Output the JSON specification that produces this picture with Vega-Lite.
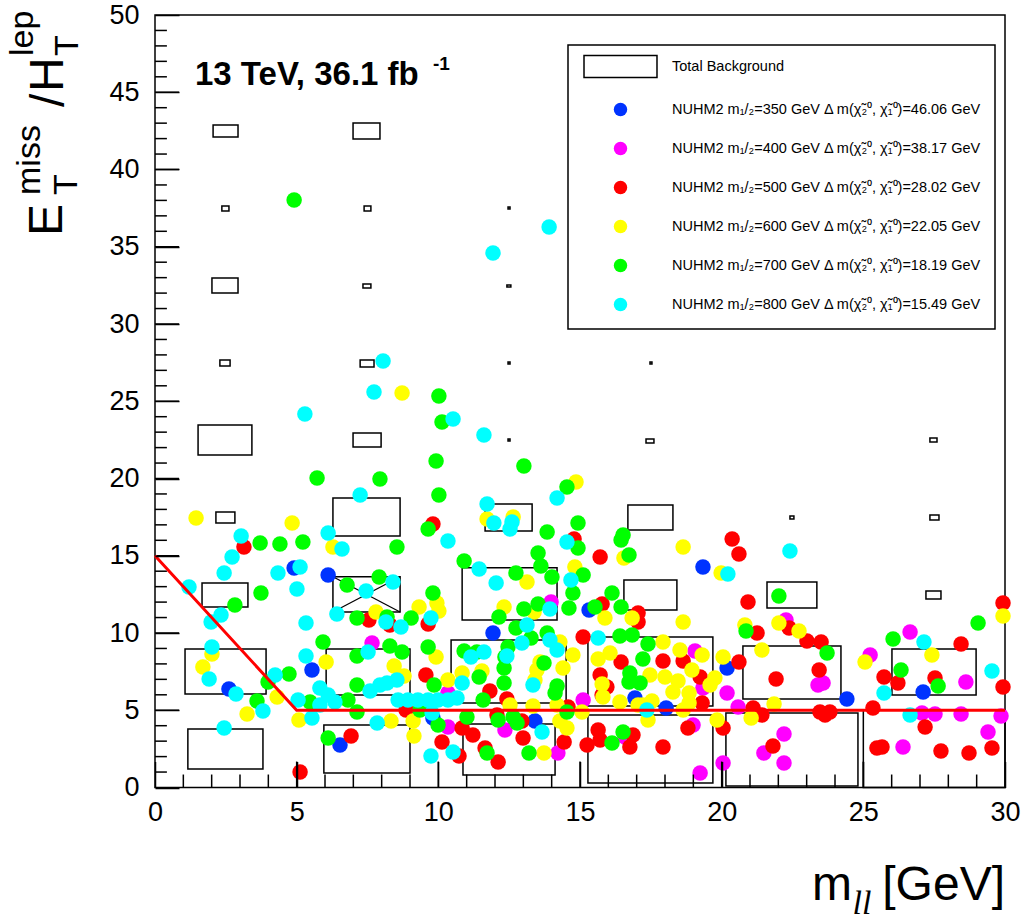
{
  "$schema": "https://vega.github.io/schema/vega-lite/v6.json",
  "width": 850,
  "height": 772.5,
  "autosize": {"type": "none"},
  "padding": {"left": 155, "top": 15, "right": 25, "bottom": 136.5},
  "background": "white",
  "config": {
    "view": {"stroke": "black", "strokeWidth": 1.5},
    "font": "Liberation Sans"
  },
  "resolve": {"scale": {"x": "shared", "y": "shared"}, "axis": {"x": "independent", "y": "independent"}},
  "datasets": {
    "boxes": [
      {"x1": 2.05, "x2": 2.93, "y1": 42.10, "y2": 42.88},
      {"x1": 2.36, "x2": 2.61, "y1": 37.31, "y2": 37.64},
      {"x1": 2.01, "x2": 2.93, "y1": 32.01, "y2": 32.98},
      {"x1": 2.29, "x2": 2.65, "y1": 27.28, "y2": 27.67},
      {"x1": 1.52, "x2": 3.42, "y1": 21.52, "y2": 23.46},
      {"x1": 2.15, "x2": 2.82, "y1": 17.12, "y2": 17.83},
      {"x1": 1.66, "x2": 3.28, "y1": 11.68, "y2": 13.24},
      {"x1": 1.06, "x2": 3.92, "y1": 6.05, "y2": 8.96},
      {"x1": 1.16, "x2": 3.81, "y1": 1.20, "y2": 3.79},
      {"x1": 6.99, "x2": 7.94, "y1": 41.97, "y2": 43.01},
      {"x1": 7.38, "x2": 7.62, "y1": 37.31, "y2": 37.64},
      {"x1": 7.34, "x2": 7.62, "y1": 32.33, "y2": 32.59},
      {"x1": 7.24, "x2": 7.73, "y1": 27.22, "y2": 27.67},
      {"x1": 6.99, "x2": 7.98, "y1": 22.04, "y2": 22.94},
      {"x1": 6.28, "x2": 8.65, "y1": 16.28, "y2": 18.74},
      {"x1": 6.28, "x2": 8.65, "y1": 11.36, "y2": 13.64},
      {"x1": 6.04, "x2": 9.00, "y1": 5.99, "y2": 8.96},
      {"x1": 5.96, "x2": 9.00, "y1": 0.94, "y2": 4.05},
      {"x1": 12.46, "x2": 12.53, "y1": 37.44, "y2": 37.57},
      {"x1": 12.42, "x2": 12.56, "y1": 32.39, "y2": 32.52},
      {"x1": 12.46, "x2": 12.53, "y1": 27.41, "y2": 27.54},
      {"x1": 12.46, "x2": 12.53, "y1": 22.43, "y2": 22.56},
      {"x1": 11.65, "x2": 13.31, "y1": 16.60, "y2": 18.35},
      {"x1": 10.84, "x2": 14.19, "y1": 10.84, "y2": 14.22},
      {"x1": 10.45, "x2": 14.51, "y1": 5.47, "y2": 9.55},
      {"x1": 10.87, "x2": 14.12, "y1": 0.81, "y2": 4.11},
      {"x1": 17.47, "x2": 17.54, "y1": 27.41, "y2": 27.54},
      {"x1": 17.33, "x2": 17.61, "y1": 22.30, "y2": 22.56},
      {"x1": 16.69, "x2": 18.28, "y1": 16.67, "y2": 18.28},
      {"x1": 16.55, "x2": 18.42, "y1": 11.49, "y2": 13.43},
      {"x1": 15.28, "x2": 19.69, "y1": 5.28, "y2": 9.74},
      {"x1": 15.28, "x2": 19.69, "y1": 0.29, "y2": 4.69},
      {"x1": 22.41, "x2": 22.55, "y1": 17.38, "y2": 17.57},
      {"x1": 21.60, "x2": 23.36, "y1": 11.62, "y2": 13.30},
      {"x1": 20.75, "x2": 24.21, "y1": 5.73, "y2": 9.16},
      {"x1": 20.15, "x2": 24.81, "y1": 0.10, "y2": 4.82},
      {"x1": 27.35, "x2": 27.60, "y1": 22.36, "y2": 22.62},
      {"x1": 27.35, "x2": 27.67, "y1": 17.31, "y2": 17.64},
      {"x1": 27.21, "x2": 27.74, "y1": 12.20, "y2": 12.72},
      {"x1": 26.01, "x2": 28.98, "y1": 5.99, "y2": 8.96},
      {"x1": 25.0, "x2": 30.0, "y1": 0.0, "y2": 5.0}
    ],
    "pts": [
      {"x":4.91,"y":14.21,"m":"350"},{"x":6.11,"y":13.75,"m":"350"},{"x":5.54,"y":7.61,"m":"350"},{"x":2.61,"y":6.38,"m":"350"},{"x":6.53,"y":2.75,"m":"350"},{"x":9.81,"y":4.50,"m":"350"},{"x":11.93,"y":10.0,"m":"350"},{"x":15.32,"y":11.49,"m":"350"},{"x":13.41,"y":4.30,"m":"350"},{"x":19.34,"y":14.27,"m":"350"},{"x":16.94,"y":5.79,"m":"350"},{"x":18.04,"y":5.15,"m":"350"},{"x":20.19,"y":7.73,"m":"350"},{"x":24.42,"y":5.73,"m":"350"},{"x":27.11,"y":6.18,"m":"350"},
      {"x":7.66,"y":9.35,"m":"400"},{"x":10.34,"y":6.12,"m":"400"},{"x":10.34,"y":3.92,"m":"400"},{"x":13.98,"y":12.01,"m":"400"},{"x":15.11,"y":5.66,"m":"400"},{"x":12.35,"y":3.72,"m":"400"},{"x":14.22,"y":2.23,"m":"400"},{"x":19.06,"y":8.83,"m":"400"},{"x":19.34,"y":6.44,"m":"400"},{"x":20.19,"y":6.12,"m":"400"},{"x":20.58,"y":5.21,"m":"400"},{"x":18.99,"y":4.05,"m":"400"},{"x":19.24,"y":0.94,"m":"400"},{"x":20.05,"y":1.59,"m":"400"},{"x":22.27,"y":10.84,"m":"400"},{"x":23.40,"y":6.63,"m":"400"},{"x":23.58,"y":6.76,"m":"400"},{"x":22.20,"y":3.46,"m":"400"},{"x":21.49,"y":2.23,"m":"400"},{"x":22.20,"y":1.59,"m":"400"},{"x":25.24,"y":8.58,"m":"400"},{"x":26.65,"y":10.06,"m":"400"},{"x":27.07,"y":4.82,"m":"400"},{"x":27.53,"y":4.76,"m":"400"},{"x":28.45,"y":4.76,"m":"400"},{"x":29.86,"y":4.63,"m":"400"},{"x":29.40,"y":3.59,"m":"400"},{"x":26.40,"y":2.62,"m":"400"},{"x":28.62,"y":6.83,"m":"400"},{"x":16.59,"y":3.27,"m":"400"},
      {"x":3.14,"y":15.57,"m":"500"},{"x":9.81,"y":17.05,"m":"500"},{"x":7.55,"y":10.84,"m":"500"},{"x":8.29,"y":10.52,"m":"500"},{"x":9.64,"y":10.58,"m":"500"},{"x":9.56,"y":7.28,"m":"500"},{"x":8.86,"y":5.02,"m":"500"},{"x":6.92,"y":3.33,"m":"500"},{"x":10.13,"y":2.94,"m":"500"},{"x":5.12,"y":1.0,"m":"500"},
      {"x":14.79,"y":16.08,"m":"500"},{"x":15.71,"y":14.92,"m":"500"},{"x":20.37,"y":16.08,"m":"500"},{"x":15.78,"y":11.88,"m":"500"},{"x":17.05,"y":11.29,"m":"500"},{"x":17.05,"y":10.71,"m":"500"},{"x":15.11,"y":9.74,"m":"500"},{"x":16.45,"y":8.12,"m":"500"},{"x":17.93,"y":8.19,"m":"500"},{"x":18.64,"y":8.19,"m":"500"},
      {"x":15.71,"y":7.28,"m":"500"},{"x":15.95,"y":6.50,"m":"500"},{"x":19.24,"y":7.15,"m":"500"},{"x":15.78,"y":5.99,"m":"500"},{"x":19.31,"y":5.47,"m":"500"},{"x":11.82,"y":6.25,"m":"500"},{"x":12.42,"y":5.73,"m":"500"},{"x":12.07,"y":4.69,"m":"500"},{"x":12.95,"y":4.30,"m":"500"},{"x":12.99,"y":3.20,"m":"500"},
      {"x":14.58,"y":5.21,"m":"500"},{"x":14.44,"y":2.94,"m":"500"},{"x":12.11,"y":1.65,"m":"500"},{"x":11.65,"y":2.56,"m":"500"},{"x":10.73,"y":2.04,"m":"500"},{"x":10.84,"y":3.85,"m":"500"},{"x":11.22,"y":3.40,"m":"500"},{"x":15.25,"y":2.75,"m":"500"},{"x":15.64,"y":3.72,"m":"500"},{"x":15.71,"y":3.07,"m":"500"},
      {"x":16.76,"y":2.62,"m":"500"},{"x":16.87,"y":3.40,"m":"500"},{"x":17.93,"y":2.62,"m":"500"},{"x":18.81,"y":3.85,"m":"500"},{"x":20.05,"y":3.85,"m":"500"},{"x":20.61,"y":15.11,"m":"500"},{"x":20.93,"y":12.01,"m":"500"},{"x":21.25,"y":10.0,"m":"500"},{"x":22.38,"y":10.32,"m":"500"},{"x":23.01,"y":9.48,"m":"500"},
      {"x":23.51,"y":9.42,"m":"500"},{"x":20.61,"y":8.12,"m":"500"},{"x":21.92,"y":7.02,"m":"500"},{"x":23.44,"y":7.61,"m":"500"},{"x":21.11,"y":5.15,"m":"500"},{"x":21.42,"y":4.69,"m":"500"},{"x":23.47,"y":4.89,"m":"500"},{"x":23.82,"y":4.89,"m":"500"},{"x":23.65,"y":4.69,"m":"500"},{"x":21.81,"y":2.69,"m":"500"},
      {"x":29.93,"y":11.94,"m":"500"},{"x":28.45,"y":9.29,"m":"500"},{"x":25.73,"y":7.15,"m":"500"},{"x":26.22,"y":6.76,"m":"500"},{"x":27.53,"y":7.09,"m":"500"},{"x":29.93,"y":6.50,"m":"500"},{"x":25.34,"y":5.15,"m":"500"},{"x":27.18,"y":3.92,"m":"500"},{"x":25.48,"y":2.56,"m":"500"},{"x":25.66,"y":2.62,"m":"500"},
      {"x":27.74,"y":2.36,"m":"500"},{"x":28.73,"y":2.23,"m":"500"},{"x":29.54,"y":2.56,"m":"500"},
      {"x":8.72,"y":25.53,"m":"600"},{"x":1.45,"y":17.44,"m":"600"},{"x":4.84,"y":17.12,"m":"600"},{"x":6.28,"y":15.57,"m":"600"},{"x":9.32,"y":11.68,"m":"600"},{"x":9.95,"y":11.94,"m":"600"},{"x":10.02,"y":11.42,"m":"600"},{"x":7.80,"y":11.36,"m":"600"},{"x":2.01,"y":8.64,"m":"600"},{"x":9.92,"y":8.45,"m":"600"},
      {"x":6.04,"y":8.12,"m":"600"},{"x":8.44,"y":7.86,"m":"600"},{"x":1.69,"y":7.80,"m":"600"},{"x":8.79,"y":7.22,"m":"600"},{"x":4.31,"y":5.86,"m":"600"},{"x":3.25,"y":4.76,"m":"600"},{"x":5.08,"y":4.37,"m":"600"},{"x":8.33,"y":4.30,"m":"600"},{"x":9.11,"y":4.30,"m":"600"},{"x":9.14,"y":3.33,"m":"600"},
      {"x":10.34,"y":6.96,"m":"600"},{"x":14.86,"y":19.77,"m":"600"},{"x":11.72,"y":17.38,"m":"600"},{"x":12.64,"y":17.51,"m":"600"},{"x":16.55,"y":14.85,"m":"600"},{"x":18.64,"y":15.57,"m":"600"},{"x":19.98,"y":13.88,"m":"600"},{"x":14.82,"y":14.27,"m":"600"},{"x":13.13,"y":13.30,"m":"600"},{"x":12.32,"y":11.68,"m":"600"},
      {"x":13.38,"y":11.36,"m":"600"},{"x":15.88,"y":10.97,"m":"600"},{"x":16.84,"y":10.97,"m":"600"},{"x":18.64,"y":10.71,"m":"600"},{"x":14.29,"y":9.42,"m":"600"},{"x":14.75,"y":8.58,"m":"600"},{"x":17.93,"y":9.42,"m":"600"},{"x":18.53,"y":8.90,"m":"600"},{"x":19.31,"y":8.58,"m":"600"},{"x":20.05,"y":8.45,"m":"600"},
      {"x":15.64,"y":8.32,"m":"600"},{"x":16.06,"y":8.71,"m":"600"},{"x":13.59,"y":8.12,"m":"600"},{"x":14.40,"y":7.73,"m":"600"},{"x":18.95,"y":7.61,"m":"600"},{"x":10.84,"y":7.41,"m":"600"},{"x":11.54,"y":7.54,"m":"600"},{"x":13.48,"y":7.61,"m":"600"},{"x":13.41,"y":6.96,"m":"600"},{"x":15.78,"y":6.70,"m":"600"},
      {"x":17.47,"y":7.28,"m":"600"},{"x":18.0,"y":7.15,"m":"600"},{"x":18.46,"y":6.89,"m":"600"},{"x":18.28,"y":6.18,"m":"600"},{"x":19.76,"y":7.09,"m":"600"},{"x":19.59,"y":6.63,"m":"600"},{"x":15.81,"y":5.86,"m":"600"},{"x":16.41,"y":5.53,"m":"600"},{"x":17.54,"y":5.60,"m":"600"},{"x":17.22,"y":5.34,"m":"600"},
      {"x":18.85,"y":6.12,"m":"600"},{"x":18.85,"y":5.47,"m":"600"},{"x":18.64,"y":5.02,"m":"600"},{"x":17.40,"y":4.37,"m":"600"},{"x":17.05,"y":5.34,"m":"600"},{"x":15.07,"y":4.89,"m":"600"},{"x":12.53,"y":5.34,"m":"600"},{"x":13.34,"y":5.28,"m":"600"},{"x":14.19,"y":5.34,"m":"600"},{"x":14.29,"y":4.30,"m":"600"},
      {"x":14.54,"y":3.85,"m":"600"},{"x":13.73,"y":2.23,"m":"600"},{"x":19.84,"y":4.37,"m":"600"},{"x":20.82,"y":10.52,"m":"600"},{"x":22.02,"y":10.65,"m":"600"},{"x":22.73,"y":10.13,"m":"600"},{"x":21.42,"y":8.90,"m":"600"},{"x":21.85,"y":5.40,"m":"600"},{"x":21.04,"y":4.50,"m":"600"},{"x":25.06,"y":8.12,"m":"600"},
      {"x":27.42,"y":8.58,"m":"600"},{"x":29.93,"y":11.10,"m":"600"},
      {"x":4.91,"y":38.03,"m":"700"},{"x":10.02,"y":25.34,"m":"700"},{"x":10.13,"y":23.66,"m":"700"},{"x":9.92,"y":21.13,"m":"700"},{"x":5.72,"y":20.03,"m":"700"},{"x":7.94,"y":19.97,"m":"700"},{"x":10.02,"y":18.93,"m":"700"},{"x":9.64,"y":16.73,"m":"700"},{"x":3.71,"y":15.83,"m":"700"},{"x":4.41,"y":15.76,"m":"700"},
      {"x":5.22,"y":15.89,"m":"700"},{"x":8.54,"y":15.57,"m":"700"},{"x":6.78,"y":13.11,"m":"700"},{"x":7.91,"y":13.62,"m":"700"},{"x":3.74,"y":12.59,"m":"700"},{"x":9.81,"y":12.59,"m":"700"},{"x":2.82,"y":11.81,"m":"700"},{"x":7.13,"y":10.97,"m":"700"},{"x":9.04,"y":10.97,"m":"700"},{"x":8.19,"y":11.04,"m":"700"},
      {"x":5.93,"y":9.42,"m":"700"},{"x":8.29,"y":9.16,"m":"700"},{"x":8.72,"y":8.77,"m":"700"},{"x":9.64,"y":9.09,"m":"700"},{"x":7.13,"y":8.51,"m":"700"},{"x":4.73,"y":7.35,"m":"700"},{"x":7.13,"y":6.63,"m":"700"},{"x":9.85,"y":6.63,"m":"700"},{"x":3.99,"y":6.83,"m":"700"},{"x":3.60,"y":5.60,"m":"700"},
      {"x":5.47,"y":5.53,"m":"700"},{"x":6.81,"y":5.66,"m":"700"},{"x":7.13,"y":4.89,"m":"700"},{"x":9.35,"y":5.02,"m":"700"},{"x":9.99,"y":4.05,"m":"700"},{"x":6.11,"y":3.20,"m":"700"},{"x":13.02,"y":20.81,"m":"700"},{"x":14.54,"y":19.45,"m":"700"},{"x":13.84,"y":16.54,"m":"700"},{"x":14.93,"y":17.12,"m":"700"},
      {"x":14.93,"y":15.50,"m":"700"},{"x":13.52,"y":15.18,"m":"700"},{"x":16.52,"y":16.34,"m":"700"},{"x":16.45,"y":16.02,"m":"700"},{"x":16.73,"y":15.05,"m":"700"},{"x":10.91,"y":14.66,"m":"700"},{"x":13.62,"y":14.34,"m":"700"},{"x":12.74,"y":13.88,"m":"700"},{"x":14.01,"y":13.62,"m":"700"},{"x":15.11,"y":13.75,"m":"700"},
      {"x":14.75,"y":12.59,"m":"700"},{"x":16.13,"y":12.59,"m":"700"},{"x":13.52,"y":11.88,"m":"700"},{"x":13.02,"y":11.55,"m":"700"},{"x":14.61,"y":11.62,"m":"700"},{"x":15.53,"y":11.68,"m":"700"},{"x":16.45,"y":11.68,"m":"700"},{"x":12.14,"y":11.04,"m":"700"},{"x":12.74,"y":10.32,"m":"700"},{"x":13.84,"y":10.0,"m":"700"},
      {"x":13.27,"y":9.68,"m":"700"},{"x":16.41,"y":9.81,"m":"700"},{"x":16.84,"y":9.87,"m":"700"},{"x":17.40,"y":9.29,"m":"700"},{"x":10.91,"y":8.83,"m":"700"},{"x":11.36,"y":8.77,"m":"700"},{"x":12.35,"y":8.45,"m":"700"},{"x":12.46,"y":9.09,"m":"700"},{"x":13.73,"y":8.06,"m":"700"},{"x":17.22,"y":8.32,"m":"700"},
      {"x":11.44,"y":7.15,"m":"700"},{"x":12.32,"y":7.73,"m":"700"},{"x":12.32,"y":6.76,"m":"700"},{"x":16.76,"y":7.41,"m":"700"},{"x":16.73,"y":6.83,"m":"700"},{"x":17.12,"y":6.76,"m":"700"},{"x":14.19,"y":6.57,"m":"700"},{"x":14.12,"y":6.12,"m":"700"},{"x":11.58,"y":5.66,"m":"700"},{"x":12.11,"y":4.37,"m":"700"},
      {"x":12.78,"y":4.17,"m":"700"},{"x":12.64,"y":4.56,"m":"700"},{"x":14.54,"y":4.89,"m":"700"},{"x":13.20,"y":2.23,"m":"700"},{"x":11.72,"y":2.23,"m":"700"},{"x":11.01,"y":4.56,"m":"700"},{"x":16.13,"y":2.88,"m":"700"},{"x":16.52,"y":3.59,"m":"700"},{"x":22.02,"y":12.39,"m":"700"},{"x":20.86,"y":10.13,"m":"700"},
      {"x":23.72,"y":8.71,"m":"700"},{"x":29.05,"y":10.65,"m":"700"},{"x":26.05,"y":9.61,"m":"700"},{"x":26.33,"y":7.61,"m":"700"},{"x":27.64,"y":6.57,"m":"700"},
      {"x":13.91,"y":36.28,"m":"800"},{"x":11.93,"y":34.60,"m":"800"},{"x":8.05,"y":27.61,"m":"800"},{"x":7.73,"y":25.60,"m":"800"},{"x":5.29,"y":24.17,"m":"800"},{"x":10.52,"y":23.85,"m":"800"},{"x":11.61,"y":22.82,"m":"800"},{"x":7.24,"y":18.93,"m":"800"},{"x":11.72,"y":18.35,"m":"800"},{"x":14.19,"y":18.74,"m":"800"},
      {"x":6.11,"y":16.47,"m":"800"},{"x":3.04,"y":16.28,"m":"800"},{"x":6.60,"y":15.44,"m":"800"},{"x":10.34,"y":15.95,"m":"800"},{"x":11.96,"y":17.12,"m":"800"},{"x":12.60,"y":17.18,"m":"800"},{"x":12.53,"y":16.73,"m":"800"},{"x":14.54,"y":15.89,"m":"800"},{"x":2.72,"y":14.92,"m":"800"},{"x":2.44,"y":13.88,"m":"800"},
      {"x":4.34,"y":13.88,"m":"800"},{"x":5.12,"y":14.27,"m":"800"},{"x":1.20,"y":12.98,"m":"800"},{"x":5.01,"y":12.85,"m":"800"},{"x":8.40,"y":13.30,"m":"800"},{"x":7.45,"y":12.72,"m":"800"},{"x":2.33,"y":11.17,"m":"800"},{"x":1.98,"y":10.71,"m":"800"},{"x":6.42,"y":11.23,"m":"800"},{"x":8.15,"y":10.71,"m":"800"},
      {"x":8.68,"y":10.39,"m":"800"},{"x":9.74,"y":10.97,"m":"800"},{"x":5.33,"y":10.65,"m":"800"},{"x":7.52,"y":8.77,"m":"800"},{"x":2.01,"y":9.09,"m":"800"},{"x":5.33,"y":8.51,"m":"800"},{"x":1.91,"y":7.02,"m":"800"},{"x":4.24,"y":7.28,"m":"800"},{"x":2.86,"y":6.05,"m":"800"},{"x":3.81,"y":4.95,"m":"800"},
      {"x":8.54,"y":6.96,"m":"800"},{"x":8.19,"y":6.76,"m":"800"},{"x":7.94,"y":6.63,"m":"800"},{"x":7.59,"y":6.25,"m":"800"},{"x":5.82,"y":6.44,"m":"800"},{"x":6.11,"y":5.99,"m":"800"},{"x":6.35,"y":5.53,"m":"800"},{"x":5.05,"y":5.66,"m":"800"},{"x":5.82,"y":5.34,"m":"800"},{"x":8.58,"y":5.66,"m":"800"},
      {"x":8.93,"y":5.66,"m":"800"},{"x":9.28,"y":5.66,"m":"800"},{"x":9.64,"y":5.66,"m":"800"},{"x":9.99,"y":5.66,"m":"800"},{"x":10.34,"y":5.66,"m":"800"},{"x":10.66,"y":5.79,"m":"800"},{"x":9.78,"y":4.82,"m":"800"},{"x":5.54,"y":4.50,"m":"800"},{"x":7.84,"y":4.17,"m":"800"},{"x":2.44,"y":3.85,"m":"800"},
      {"x":9.74,"y":2.04,"m":"800"},{"x":11.44,"y":14.14,"m":"800"},{"x":12.04,"y":13.24,"m":"800"},{"x":14.68,"y":13.43,"m":"800"},{"x":13.94,"y":11.55,"m":"800"},{"x":13.13,"y":10.52,"m":"800"},{"x":12.95,"y":9.35,"m":"800"},{"x":13.94,"y":9.55,"m":"800"},{"x":14.19,"y":8.90,"m":"800"},{"x":15.64,"y":9.68,"m":"800"},
      {"x":11.15,"y":8.45,"m":"800"},{"x":11.61,"y":8.77,"m":"800"},{"x":12.42,"y":8.51,"m":"800"},{"x":10.84,"y":6.76,"m":"800"},{"x":13.34,"y":6.63,"m":"800"},{"x":13.66,"y":3.59,"m":"800"},{"x":10.52,"y":2.30,"m":"800"},{"x":17.36,"y":5.02,"m":"800"},{"x":20.22,"y":13.82,"m":"800"},{"x":22.41,"y":15.31,"m":"800"},
      {"x":27.14,"y":9.42,"m":"800"},{"x":29.54,"y":7.54,"m":"800"},{"x":25.73,"y":6.12,"m":"800"},{"x":26.65,"y":4.69,"m":"800"}
    ]
  },
  "layer": [
    {
      "data": {"name": "boxes"},
      "mark": {"type": "rect", "fill": "transparent", "stroke": "black", "strokeWidth": 1.5},
      "encoding": {
        "x": {"field": "x1", "type": "quantitative", "title": null,
          "scale": {"domain": [0, 30], "nice": false, "zero": false},
          "axis": {
            "orient": "bottom", "offset": -26, "zindex": 1,
            "values": [0, 5, 10, 15, 20, 25, 30],
            "ticks": true, "tickSize": 26, "labelPadding": 12, "domain": false,
            "labelFontSize": 27, "labelFont": "Liberation Sans", "labelColor": "black",
            "labelFlush": false, "labelOverlap": false, "labelBound": false,
            "tickColor": "black", "tickWidth": 1.5, "grid": false
          }
        },
        "x2": {"field": "x2"},
        "y": {"field": "y1", "type": "quantitative", "title": null,
          "scale": {"domain": [0, 50], "nice": false, "zero": false},
          "axis": {
            "orient": "left", "offset": -24, "zindex": 1,
            "values": [0, 5, 10, 15, 20, 25, 30, 35, 40, 45, 50],
            "ticks": true, "tickSize": 24, "labelPadding": 16, "domain": false,
            "labelFontSize": 27, "labelFont": "Liberation Sans", "labelColor": "black",
            "labelFlush": false, "labelOverlap": false, "labelBound": false,
            "tickColor": "black", "tickWidth": 1.5, "grid": false
          }
        },
        "y2": {"field": "y2"}
      }
    },
    {
      "data": {"values": [
        {"x1": 6.28, "y1": 13.64, "x2": 8.65, "y2": 11.36},
        {"x1": 6.28, "y1": 11.36, "x2": 8.65, "y2": 13.64}
      ]},
      "mark": {"type": "rule", "stroke": "black", "strokeWidth": 1.3},
      "encoding": {
        "x": {"field": "x1", "type": "quantitative", "axis": null, "scale": {"domain": [0, 30], "nice": false, "zero": false}},
        "x2": {"field": "x2"},
        "y": {"field": "y1", "type": "quantitative", "axis": null, "scale": {"domain": [0, 50], "nice": false, "zero": false}},
        "y2": {"field": "y2"}
      }
    },
    {
      "data": {"name": "pts"},
      "mark": {"type": "point", "filled": true, "size": 240, "opacity": 1, "strokeWidth": 0},
      "encoding": {
        "x": {"field": "x", "type": "quantitative", "axis": null, "scale": {"domain": [0, 30], "nice": false, "zero": false}},
        "y": {"field": "y", "type": "quantitative", "axis": null, "scale": {"domain": [0, 50], "nice": false, "zero": false}},
        "color": {"field": "m", "type": "nominal",
          "scale": {"domain": ["bkg","350","400","500","600","700","800"], "range": ["white","#0033ff","#ff00ff","#ff0000","#ffff00","#00ff00","#00ffff"]},
          "legend": {
            "title": null, "orient": "none", "legendX": 413, "legendY": 30, "padding": 14,
            "strokeColor": "black", "fillColor": "white",
            "symbolSize": 180, "symbolOffset": 31, "labelOffset": 44, "rowPadding": 18,
            "labelFontSize": 14.5, "labelFont": "Liberation Sans", "labelColor": "black", "labelLimit": 600,
            "symbolOpacity": 1,
            "labelExpr": "datum.value === 'bkg' ? 'Total Background' : 'NUHM2 m₁/₂=' + datum.value + ' GeV Δ m(χ̃₂⁰, χ̃₁⁰)=' + (datum.value === '350' ? '46.06' : datum.value === '400' ? '38.17' : datum.value === '500' ? '28.02' : datum.value === '600' ? '22.05' : datum.value === '700' ? '18.19' : '15.49') + ' GeV'",
            "encode": {
              "legend": {"update": {"strokeWidth": {"value": 1.5}}},
              "symbols": {"update": {"stroke": [{"test": "datum.value === 'bkg'", "value": "black"}, {"value": "transparent"}], "strokeWidth": {"value": 1.5}}}
            }
          }
        },
        "shape": {"field": "m", "type": "nominal",
          "scale": {"domain": ["bkg","350","400","500","600","700","800"], "range": ["M-5.44,-1.64H5.44V1.64H-5.44Z","circle","circle","circle","circle","circle","circle"]},
          "legend": {
            "title": null, "orient": "none", "legendX": 413, "legendY": 30, "padding": 14,
            "strokeColor": "black", "fillColor": "white",
            "symbolSize": 180, "symbolOffset": 31, "labelOffset": 44, "rowPadding": 18,
            "labelFontSize": 14.5, "labelFont": "Liberation Sans", "labelColor": "black", "labelLimit": 600,
            "symbolOpacity": 1,
            "labelExpr": "datum.value === 'bkg' ? 'Total Background' : 'NUHM2 m₁/₂=' + datum.value + ' GeV Δ m(χ̃₂⁰, χ̃₁⁰)=' + (datum.value === '350' ? '46.06' : datum.value === '400' ? '38.17' : datum.value === '500' ? '28.02' : datum.value === '600' ? '22.05' : datum.value === '700' ? '18.19' : '15.49') + ' GeV'",
            "encode": {
              "legend": {"update": {"strokeWidth": {"value": 1.5}}},
              "symbols": {"update": {"stroke": [{"test": "datum.value === 'bkg'", "value": "black"}, {"value": "transparent"}], "strokeWidth": {"value": 1.5}}}
            }
          }
        }
      }
    },
    {
      "data": {"values": [{"v": 5}, {"v": 10}, {"v": 15}, {"v": 20}, {"v": 25}]},
      "mark": {"type": "rule", "stroke": "black", "strokeWidth": 1.5},
      "encoding": {
        "x": {"field": "v", "type": "quantitative", "axis": null, "scale": {"domain": [0, 30], "nice": false, "zero": false}},
        "y": {"datum": 0, "type": "quantitative", "axis": null, "scale": {"domain": [0, 50], "nice": false, "zero": false}},
        "y2": {"datum": 1.68}
      }
    },
    {
      "data": {"values": [{"v":1},{"v":2},{"v":3},{"v":4},{"v":6},{"v":7},{"v":8},{"v":9},{"v":11},{"v":12},{"v":13},{"v":14},{"v":16},{"v":17},{"v":18},{"v":19},{"v":21},{"v":22},{"v":23},{"v":24},{"v":26},{"v":27},{"v":28},{"v":29}]},
      "mark": {"type": "rule", "stroke": "black", "strokeWidth": 1.5},
      "encoding": {
        "x": {"field": "v", "type": "quantitative", "axis": null, "scale": {"domain": [0, 30], "nice": false, "zero": false}},
        "y": {"datum": 0, "type": "quantitative", "axis": null, "scale": {"domain": [0, 50], "nice": false, "zero": false}},
        "y2": {"datum": 0.84}
      }
    },
    {
      "data": {"values": [{"v": 5}, {"v": 10}, {"v": 15}, {"v": 20}, {"v": 25}, {"v": 30}, {"v": 35}, {"v": 40}, {"v": 45}]},
      "mark": {"type": "rule", "stroke": "black", "strokeWidth": 1.5},
      "encoding": {
        "y": {"field": "v", "type": "quantitative", "axis": null, "scale": {"domain": [0, 50], "nice": false, "zero": false}},
        "x": {"datum": 0, "type": "quantitative", "axis": null, "scale": {"domain": [0, 30], "nice": false, "zero": false}},
        "x2": {"datum": 0.85}
      }
    },
    {
      "data": {"values": [{"v":1},{"v":2},{"v":3},{"v":4},{"v":6},{"v":7},{"v":8},{"v":9},{"v":11},{"v":12},{"v":13},{"v":14},{"v":16},{"v":17},{"v":18},{"v":19},{"v":21},{"v":22},{"v":23},{"v":24},{"v":26},{"v":27},{"v":28},{"v":29},{"v":31},{"v":32},{"v":33},{"v":34},{"v":36},{"v":37},{"v":38},{"v":39},{"v":41},{"v":42},{"v":43},{"v":44},{"v":46},{"v":47},{"v":48},{"v":49}]},
      "mark": {"type": "rule", "stroke": "black", "strokeWidth": 1.5},
      "encoding": {
        "y": {"field": "v", "type": "quantitative", "axis": null, "scale": {"domain": [0, 50], "nice": false, "zero": false}},
        "x": {"datum": 0, "type": "quantitative", "axis": null, "scale": {"domain": [0, 30], "nice": false, "zero": false}},
        "x2": {"datum": 0.42}
      }
    },
    {
      "data": {"values": [{"x": 0, "y": 15}, {"x": 5, "y": 5}, {"x": 30, "y": 5}]},
      "mark": {"type": "line", "color": "#ff0000", "strokeWidth": 3},
      "encoding": {
        "x": {"field": "x", "type": "quantitative", "axis": null, "scale": {"domain": [0, 30], "nice": false, "zero": false}},
        "y": {"field": "y", "type": "quantitative", "axis": null, "scale": {"domain": [0, 50], "nice": false, "zero": false}}
      }
    },
    {
      "data": {"values": [{"t": "13 TeV, 36.1 fb", "x": 1.41, "y": 45.47}]},
      "mark": {"type": "text", "font": "Liberation Sans", "fontWeight": "bold", "fontSize": 33, "align": "left", "baseline": "alphabetic", "color": "black"},
      "encoding": {
        "x": {"field": "x", "type": "quantitative", "axis": null, "scale": {"domain": [0, 30], "nice": false, "zero": false}},
        "y": {"field": "y", "type": "quantitative", "axis": null, "scale": {"domain": [0, 50], "nice": false, "zero": false}},
        "text": {"field": "t"}
      }
    },
    {
      "data": {"values": [{"t": "-1", "x": 9.81, "y": 46.44}]},
      "mark": {"type": "text", "font": "Liberation Sans", "fontWeight": "bold", "fontSize": 19, "align": "left", "baseline": "alphabetic", "color": "black"},
      "encoding": {
        "x": {"field": "x", "type": "quantitative", "axis": null, "scale": {"domain": [0, 30], "nice": false, "zero": false}},
        "y": {"field": "y", "type": "quantitative", "axis": null, "scale": {"domain": [0, 50], "nice": false, "zero": false}},
        "text": {"field": "t"}
      }
    },
    {
      "data": {"values": [
        {"t": "E", "x": -3.28, "y": 35.70},
        {"t": "/", "x": -3.21, "y": 44.05},
        {"t": "H", "x": -3.25, "y": 45.02}
      ]},
      "mark": {"type": "text", "font": "Liberation Sans", "fontSize": 48, "angle": 270, "align": "left", "baseline": "alphabetic", "color": "black"},
      "encoding": {
        "x": {"field": "x", "type": "quantitative", "axis": null, "scale": {"domain": [0, 30], "nice": false, "zero": false}},
        "y": {"field": "y", "type": "quantitative", "axis": null, "scale": {"domain": [0, 50], "nice": false, "zero": false}},
        "text": {"field": "t"}
      }
    },
    {
      "data": {"values": [
        {"t": "miss", "x": -4.06, "y": 38.35},
        {"t": "T", "x": -2.75, "y": 38.35},
        {"t": "lep", "x": -4.31, "y": 47.35},
        {"t": "T", "x": -2.72, "y": 47.35}
      ]},
      "mark": {"type": "text", "font": "Liberation Sans", "fontSize": 34, "angle": 270, "align": "left", "baseline": "alphabetic", "color": "black"},
      "encoding": {
        "x": {"field": "x", "type": "quantitative", "axis": null, "scale": {"domain": [0, 30], "nice": false, "zero": false}},
        "y": {"field": "y", "type": "quantitative", "axis": null, "scale": {"domain": [0, 50], "nice": false, "zero": false}},
        "text": {"field": "t"}
      }
    },
    {
      "data": {"values": [
        {"t": "m", "x": 23.19, "y": -7.28, "a": "left"},
        {"t": "[GeV]", "x": 30.0, "y": -7.28, "a": "right"}
      ]},
      "mark": {"type": "text", "font": "Liberation Sans", "fontSize": 48, "baseline": "alphabetic", "color": "black", "align": {"expr": "datum.a"}},
      "encoding": {
        "x": {"field": "x", "type": "quantitative", "axis": null, "scale": {"domain": [0, 30], "nice": false, "zero": false}},
        "y": {"field": "y", "type": "quantitative", "axis": null, "scale": {"domain": [0, 50], "nice": false, "zero": false}},
        "text": {"field": "t"}
      }
    },
    {
      "data": {"values": [{"t": "ll", "x": 24.62, "y": -8.19}]},
      "mark": {"type": "text", "font": "Liberation Serif", "fontStyle": "italic", "fontSize": 34, "align": "left", "baseline": "alphabetic", "color": "black"},
      "encoding": {
        "x": {"field": "x", "type": "quantitative", "axis": null, "scale": {"domain": [0, 30], "nice": false, "zero": false}},
        "y": {"field": "y", "type": "quantitative", "axis": null, "scale": {"domain": [0, 50], "nice": false, "zero": false}},
        "text": {"field": "t"}
      }
    }
  ]
}
